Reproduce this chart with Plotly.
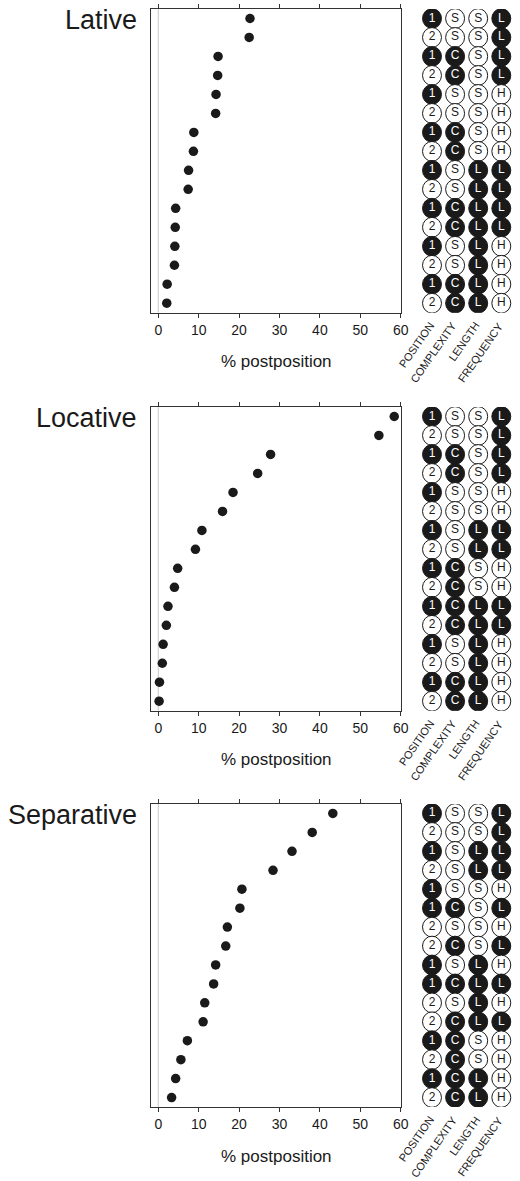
import plotly.graph_objects as go

# ---------------- data ----------------
panel_titles = ["Lative", "Locative", "Separative"]

lative_pct = [22.7, 22.5, 14.8, 14.7, 14.3, 14.2, 8.8, 8.7, 7.5, 7.4, 4.3, 4.2, 4.1, 4.0, 2.2, 2.1]
locative_pct = [58.4, 54.6, 27.8, 24.6, 18.5, 15.9, 10.8, 9.2, 4.8, 4.0, 2.4, 2.0, 1.2, 1.0, 0.3, 0.2]
separative_pct = [43.2, 38.1, 33.1, 28.4, 20.7, 20.2, 17.1, 16.7, 14.2, 13.7, 11.5, 11.1, 7.2, 5.6, 4.3, 3.3]

# codes: POSITION, COMPLEXITY, LENGTH, FREQUENCY
lative_codes = ["1SSL", "2SSL", "1CSL", "2CSL", "1SSH", "2SSH", "1CSH", "2CSH",
                "1SLL", "2SLL", "1CLL", "2CLL", "1SLH", "2SLH", "1CLH", "2CLH"]
locative_codes = ["1SSL", "2SSL", "1CSL", "2CSL", "1SSH", "2SSH", "1SLL", "2SLL",
                  "1CSH", "2CSH", "1CLL", "2CLL", "1SLH", "2SLH", "1CLH", "2CLH"]
separative_codes = ["1SSL", "2SSL", "1SLL", "2SLL", "1SSH", "1CSL", "2SSH", "2CSL",
                    "1SLH", "1CLL", "2SLH", "2CLL", "1CSH", "2CSH", "1CLH", "2CLH"]

factor_labels = ["POSITION", "COMPLEXITY", "LENGTH", "FREQUENCY"]
black_levels = ["1", "C", "L", "L"]  # level drawn as a filled black circle
x_ticks = [0, 10, 20, 30, 40, 50, 60]

pct_list = [lative_pct, locative_pct, separative_pct]
code_list = [lative_codes, locative_codes, separative_codes]

# ---------------- layout geometry ----------------
W, H = 520, 1181
K = 520 / 512          # horizontal compensation for how the page is photographed
frames_px = [(9, 312.7), (407, 710.7), (804, 1107)]  # top, bottom of each plot frame
dot_x_px = (151 * K, 400.7 * K)

# circle grid: column spacing and first-column centre (screen px)
col_step = 23.1 * K
col1 = 432 * K
grid_left = 407 * K
g0 = 1 - (col1 - grid_left) / col_step
g1 = g0 + (W - grid_left) / col_step

FONT = "Liberation Sans, Arial, sans-serif"
INK = "#1a1a1a"
LINE = "#333333"


def ax_id(letter, n):
    return letter if n == 1 else f"{letter}{n}"


def ax_key(letter, n):
    return f"{letter}axis" if n == 1 else f"{letter}axis{n}"


fig = go.Figure()
shapes = []
annotations = []
layout_axes = {}

for i in range(3):
    xa = ax_id("x", 2 * i + 1)
    xb = ax_id("x", 2 * i + 2)
    ya = ax_id("y", i + 1)
    top, bot = frames_px[i]
    ydom = [1 - bot / H, 1 - top / H]
    rows = list(range(1, 17))
    pct = pct_list[i]
    codes = code_list[i]

    # dot plot
    fig.add_trace(go.Scatter(
        x=pct, y=rows, mode="markers", xaxis=xa, yaxis=ya,
        marker=dict(size=9.5, color=INK), showlegend=False, hoverinfo="x"))

    # zero reference line
    shapes.append(dict(type="line", xref=xa, yref=f"{ya} domain", x0=0, x1=0, y0=0, y1=1,
                       line=dict(color="#c8c8c8", width=1), layer="below"))

    # circle grid
    for col in range(4):
        xs, ys, txt, tcol = [], [], [], []
        for r, code in zip(rows, codes):
            lvl = code[col]
            filled = lvl == black_levels[col]
            shapes.append(dict(type="circle", xref=xb, yref=ya, layer="below",
                               x0=col + 1 - 0.41, x1=col + 1 + 0.41,
                               y0=r - 0.52, y1=r + 0.52,
                               fillcolor=INK if filled else "white",
                               line=dict(color=INK, width=1)))
            xs.append(col + 1)
            ys.append(r)
            txt.append(lvl)
            tcol.append("white" if filled else INK)
        fig.add_trace(go.Scatter(
            x=xs, y=ys, mode="text", text=txt, xaxis=xb, yaxis=ya,
            textfont=dict(family=FONT, size=12, color=tcol),
            showlegend=False, hoverinfo="skip"))

    # rotated factor labels
    for col, lab in enumerate(factor_labels):
        annotations.append(dict(
            xref=xb, yref="paper", x=col + 1 + 0.3, y=1 - (bot + 4) / H,
            text=lab, showarrow=False, textangle=-55,
            xanchor="right", yanchor="top",
            font=dict(family=FONT, size=11, color=INK)))

    # panel title
    annotations.append(dict(
        xref="paper", yref="paper", x=141.5 / W, y=1 - (top + 11) / H,
        text=panel_titles[i], showarrow=False, xanchor="right", yanchor="middle",
        font=dict(family=FONT, size=27, color=INK)))

    # x axis title
    annotations.append(dict(
        xref="paper", yref="paper", x=276 * K / W, y=1 - (bot + 49) / H,
        text="% postposition", showarrow=False, xanchor="center", yanchor="middle",
        font=dict(family=FONT, size=17, color=INK)))

    layout_axes[ax_key("x", 2 * i + 1)] = dict(
        domain=[dot_x_px[0] / W, dot_x_px[1] / W], anchor=ya,
        range=[-1.8, 60], tickvals=x_ticks, ticks="outside", ticklen=4,
        tickcolor=LINE, showline=True, linecolor=LINE, linewidth=1, mirror="ticks",
        showgrid=False, zeroline=False,
        tickfont=dict(family=FONT, size=14, color=INK))
    layout_axes[ax_key("x", 2 * i + 2)] = dict(
        domain=[grid_left / W, 1.0], anchor=ya,
        range=[g0, g1], visible=False)
    layout_axes[ax_key("y", i + 1)] = dict(
        domain=ydom, anchor=xa, range=[16.5, 0.5],
        showline=True, linecolor=LINE, linewidth=1, mirror=True,
        showticklabels=False, ticks="", showgrid=False, zeroline=False)

fig.update_layout(
    width=W, height=H, margin=dict(l=0, r=0, t=0, b=0),
    paper_bgcolor="white", plot_bgcolor="white",
    shapes=shapes, annotations=annotations,
    font=dict(family=FONT, color=INK),
    **layout_axes)

fig.write_html(
    "out.html",
    config={"displayModeBar": False},
    post_script="document.body.style.margin='0';document.body.style.overflow='hidden';",
)
